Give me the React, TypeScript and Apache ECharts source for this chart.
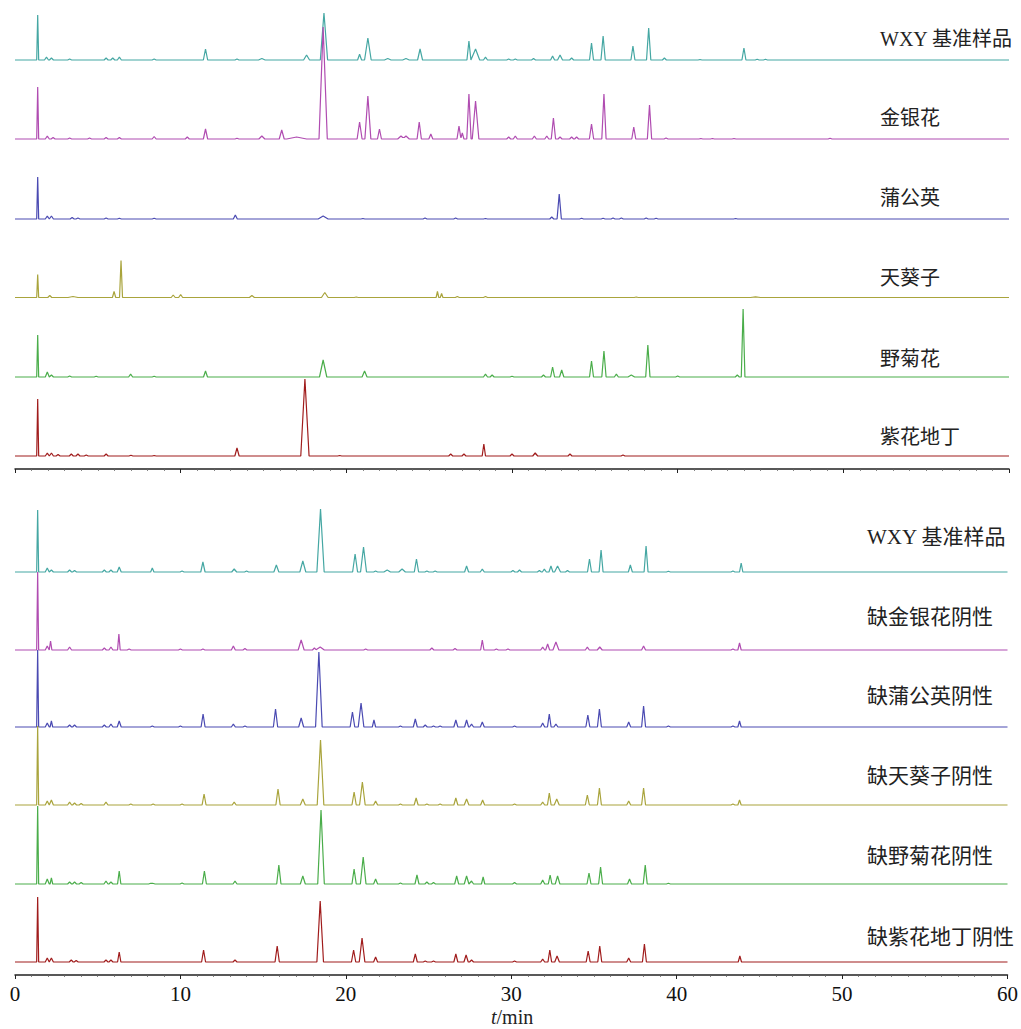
import React, { useEffect, useRef } from "react";
import * as echarts from "echarts";

// Peak tables: [retention time (min), height, half-base width (min, optional)]
const DEFAULT_W = 0.12;

const topNames = ["WXY 基准样品", "金银花", "蒲公英", "天葵子", "野菊花", "紫花地丁"];
const bottomNames = ["WXY 基准样品", "缺金银花阴性", "缺蒲公英阴性", "缺天葵子阴性", "缺野菊花阴性", "缺紫花地丁阴性"];
const colors = ["#45a7a3", "#b04cb1", "#4a4ab2", "#a9a43c", "#4aad4a", "#a01c1c"];

const wxyTop = [[1.37,45,0.06],[1.9,3],[2.2,2],[3.3,1],[5.5,2],[5.9,2],[6.3,3],[8.4,1],[11.5,11,0.13],[13.4,1],[14.9,1.5,0.2],[17.6,5,0.18],[18.65,47,0.22],[20.8,5.7],[21.3,22,0.2],[22.5,1.5,0.2],[23.6,1.5,0.2],[24.45,11,0.15],[27.4,19,0.12],[27.8,11,0.25],[28.4,3],[29.8,1],[30.2,1],[31.3,1.5],[32.45,4],[32.9,5,0.15],[33.6,2],[34.8,17,0.12],[35.5,24,0.13],[37.3,14,0.12],[38.25,32,0.13],[39.2,2],[41.35,0.5],[44.0,12,0.12],[44.8,0.7],[45.3,0.7]];
const jinyinhua = [[1.37,52,0.06],[1.95,3],[2.3,1.5],[3.3,1],[4.5,1],[5.5,1.5],[6.3,1.5],[8.4,2.5],[10.4,2],[11.5,10,0.13],[13.4,0.8],[14.9,3,0.18],[16.1,9,0.15],[17.0,2,0.6],[18.6,112,0.25],[20.8,17,0.15],[21.3,43,0.18],[22.0,10,0.12],[23.3,3,0.2],[23.6,3,0.2],[24.4,17,0.13],[25.1,5],[26.8,13,0.12],[27.0,6,0.1],[27.4,45,0.13],[27.8,38,0.2],[29.8,2],[30.2,3],[31.35,3],[32.1,3],[32.5,21,0.13],[32.9,2],[33.6,2],[33.9,2],[34.8,15,0.13],[35.55,45,0.13],[37.35,12,0.12],[38.3,34,0.13],[39.3,1],[41.4,0.5],[42.1,0.5],[43.4,0.5],[49.2,0.8]];
const pugongying = [[1.37,42,0.06],[1.95,3],[2.2,3],[3.45,1.5],[3.8,1],[5.5,1],[6.3,0.8],[8.4,0.7],[13.3,4,0.12],[18.6,3,0.3],[21.0,0.5],[24.75,1],[26.6,1],[28.4,0.5],[32.4,2],[32.85,25,0.13],[34.2,0.7],[35.5,0.7],[36.1,1],[36.6,1],[38.1,1],[38.7,0.7],[43.5,0.5]];
const tiankuizi = [[1.37,23,0.06],[2.1,2],[3.5,1,0.3],[5.98,6,0.1],[6.4,37,0.09],[9.55,2.5],[10.0,3],[14.3,2,0.15],[18.7,5,0.2],[20.6,0.5],[25.5,6,0.08],[25.75,4,0.08],[26.7,1],[28.4,1],[37.5,0.5],[44.7,0.7,0.3]];
const yejuhua = [[1.37,42,0.06],[1.95,5],[2.2,2],[3.3,1],[4.9,0.7],[6.98,3],[8.4,0.7],[11.5,6,0.12],[18.6,17,0.22],[21.1,6,0.15],[28.4,3],[28.8,2],[30.0,0.7],[31.9,2],[32.45,10,0.12],[33.0,7,0.13],[34.8,16,0.12],[35.55,26,0.13],[36.3,3],[37.2,2,0.2],[38.2,32,0.13],[40.0,1],[43.6,2],[43.95,68,0.11]];
const zihuadiding = [[1.37,57,0.06],[1.95,3],[2.2,3],[2.6,1.5],[3.4,2],[3.8,2],[4.3,1],[5.5,2],[7.0,0.7],[8.4,0.5],[13.4,8,0.13],[17.5,77,0.25],[19.6,0.5],[26.3,2],[27.1,2],[28.3,12,0.1],[30.0,2],[31.4,3,0.15],[33.5,2],[36.7,1]];

const wxyBottom = [[1.37,62,0.06],[1.95,4],[2.2,2],[3.3,2],[3.6,1.5],[5.4,2],[5.8,2],[6.3,5],[8.3,4,0.1],[10.1,1],[11.36,10,0.13],[13.25,3,0.15],[14.0,1],[15.8,7,0.15],[17.4,11,0.18],[18.47,63,0.22],[20.56,18,0.15],[21.07,25,0.18],[21.8,1],[22.5,2,0.2],[23.4,3,0.2],[24.27,13,0.13],[24.9,1],[25.4,1],[27.3,6],[28.25,3],[30.1,1.5],[30.5,2],[31.7,1.5],[32.0,3],[32.4,6,0.12],[32.8,6,0.18],[33.4,1.5],[34.73,13,0.12],[35.43,22,0.12],[37.2,7,0.12],[38.15,26,0.12],[39.5,0.7],[43.4,1],[43.9,9,0.1]];
const noJinyinhua = [[1.37,78,0.06],[1.95,4],[2.15,9,0.08],[3.3,3],[5.4,2],[5.8,3],[6.28,16,0.08],[6.9,1],[10.0,1],[11.36,1],[13.2,4,0.12],[13.9,1.5],[17.3,10,0.18],[18.1,2],[18.45,3,0.25],[21.2,1],[25.2,2],[26.6,1.5],[28.25,10,0.1],[29.1,1],[29.8,1],[31.9,3],[32.2,6,0.12],[32.7,8,0.18],[34.6,3],[35.35,3,0.15],[38.0,4,0.12],[43.4,1],[43.8,7,0.1]];
const noPugongying = [[1.37,77,0.06],[1.95,4],[2.2,6,0.08],[3.3,2],[3.6,2],[5.4,2],[5.8,3],[6.3,6],[8.3,1],[10.0,1],[11.37,13,0.12],[13.2,3],[13.9,1],[15.75,18,0.13],[17.3,9,0.15],[18.37,75,0.2],[20.4,15,0.14],[20.92,24,0.17],[21.7,7,0.1],[23.3,1],[24.2,8,0.12],[24.8,2],[25.3,1],[25.7,1],[26.65,7,0.12],[27.3,7,0.12],[27.6,3],[28.25,5],[30.2,1],[31.9,4],[32.3,13,0.11],[32.7,3],[34.63,12,0.12],[35.33,18,0.12],[37.1,5],[38.0,21,0.12],[39.5,1],[43.4,1],[43.8,6,0.1]];
const noTiankuizi = [[1.37,79,0.06],[1.95,4],[2.2,5],[3.3,3],[3.6,2],[4.0,1.5],[5.5,3],[7.0,1],[8.35,1],[10.1,1],[11.43,11,0.12],[13.25,3],[15.9,16,0.13],[17.4,6,0.15],[18.47,65,0.2],[20.5,13,0.13],[21.0,23,0.17],[21.8,4],[23.3,1],[24.25,7,0.12],[24.9,1],[25.7,1],[26.65,7,0.12],[27.3,6,0.14],[28.27,5],[30.2,1],[31.9,3],[32.3,12,0.11],[32.75,6,0.15],[34.6,10,0.12],[35.33,17,0.12],[37.1,4],[38.0,17,0.12],[43.4,1],[43.8,5,0.1]];
const noYejuhua = [[1.37,78,0.06],[1.95,5],[2.2,6,0.08],[3.3,2],[3.6,2],[4.0,1.5],[5.5,3],[5.8,2],[6.3,13,0.1],[8.2,0.7],[8.35,1],[10.1,1],[11.45,13,0.12],[13.3,3],[15.95,19,0.13],[17.4,8,0.15],[18.5,74,0.2],[20.5,15,0.13],[21.05,27,0.17],[21.8,5],[23.3,1],[24.3,9,0.12],[24.9,2],[25.3,1.5],[26.7,8,0.12],[27.3,8,0.14],[27.6,3],[28.3,7,0.1],[30.2,1.5],[31.9,4],[32.35,9,0.11],[32.8,8,0.14],[34.7,11,0.12],[35.4,17,0.12],[37.15,5],[38.1,19,0.12],[39.5,0.7]];
const noZihuadiding = [[1.37,65,0.06],[1.95,4],[2.2,4],[3.4,2],[3.7,1.5],[5.5,2],[5.8,2],[6.3,10,0.1],[11.4,12,0.12],[13.3,2],[15.85,16,0.13],[18.45,61,0.2],[20.47,12,0.13],[20.98,24,0.17],[21.8,5],[24.2,8,0.12],[24.8,1],[25.3,1],[26.65,8,0.12],[27.27,7,0.13],[27.6,2],[30.2,1],[31.9,3],[32.33,12,0.11],[32.77,6,0.14],[34.65,11,0.12],[35.35,16,0.12],[37.1,4],[38.05,18,0.12],[43.82,6,0.1]];

const topTraces = [wxyTop, jinyinhua, pugongying, tiankuizi, yejuhua, zihuadiding];
const bottomTraces = [wxyBottom, noJinyinhua, noPugongying, noTiankuizi, noYejuhua, noZihuadiding];

// vertical stacking offsets (layout)
const topOffsets = [409, 330, 250, 171.5, 92, 13];
const bottomOffsets = [403, 325, 248, 170, 91, 13];
const topLabelY = [40, 119, 199, 279, 360, 438];
const bottomLabelY = [537, 617, 696, 776, 856, 937];

const X_MIN = 0;
const X_MAX = 60;

function buildTrace(peaks: number[][], offset: number) {
  const xs = new Set<number>([X_MIN, X_MAX]);
  peaks.forEach((p) => {
    const w = p[2] ?? DEFAULT_W;
    xs.add(p[0] - w);
    xs.add(p[0]);
    xs.add(p[0] + w);
  });
  const sorted = Array.from(xs).filter((x) => x >= X_MIN && x <= X_MAX).sort((a, b) => a - b);
  return sorted.map((x) => {
    let v = 0;
    peaks.forEach((p) => {
      const w = p[2] ?? DEFAULT_W;
      v += Math.max(0, p[1] * (1 - Math.abs(x - p[0]) / w));
    });
    return [x, offset + v];
  });
}

const FONT = "Liberation Serif, Times New Roman, Noto Sans CJK SC, serif";

export default function App() {
  const ref = useRef<HTMLDivElement>(null);
  useEffect(() => {
    if (!ref.current) return;
    const chart = echarts.init(ref.current, undefined, { renderer: "svg" });

    const xAxisCommon = {
      type: "value",
      min: X_MIN,
      max: X_MAX,
      interval: 10,
      splitLine: { show: false },
      axisLine: { show: true, lineStyle: { color: "#222", width: 1.5 } },
      axisTick: { show: true, length: 4, lineStyle: { color: "#222", width: 1 } },
      minorTick: { show: true, splitNumber: 10, length: 2, lineStyle: { color: "#666", width: 0.8 } },
      minorSplitLine: { show: false },
    };

    const series: any[] = [];
    topTraces.forEach((tr, i) => {
      series.push({
        type: "line",
        xAxisIndex: 0,
        yAxisIndex: 0,
        data: buildTrace(tr, topOffsets[i]),
        showSymbol: false,
        symbol: "none",
        silent: true,
        lineStyle: { color: colors[i], width: 1.2 },
      });
    });
    bottomTraces.forEach((tr, i) => {
      series.push({
        type: "line",
        xAxisIndex: 1,
        yAxisIndex: 1,
        data: buildTrace(tr, bottomOffsets[i]),
        showSymbol: false,
        symbol: "none",
        silent: true,
        lineStyle: { color: colors[i], width: 1.2 },
      });
    });

    const graphics: any[] = [];
    topNames.forEach((n, i) => {
      graphics.push({
        type: "text",
        left: 880,
        top: topLabelY[i] - 11,
        style: { text: n, fontFamily: FONT, fontSize: 20, fill: "#222" },
      });
    });
    bottomNames.forEach((n, i) => {
      graphics.push({
        type: "text",
        left: 867,
        top: bottomLabelY[i] - 11,
        style: { text: n, fontFamily: FONT, fontSize: 21, fill: "#222" },
      });
    });
    graphics.push({
      type: "text",
      left: 491,
      top: 1007,
      style: {
        text: "{i|t}/min",
        rich: {
          i: { fontStyle: "italic", fontFamily: FONT, fontSize: 20, fill: "#222" },
        },
        fontFamily: FONT,
        fontSize: 20,
        fill: "#222",
      },
    });

    chart.setOption({
      animation: false,
      backgroundColor: "#fff",
      grid: [
        { left: 15, right: 12, top: 0, height: 469 },
        { left: 15, right: 12, top: 490, height: 485 },
      ],
      xAxis: [
        { ...xAxisCommon, gridIndex: 0, axisLabel: { show: false } },
        {
          ...xAxisCommon,
          gridIndex: 1,
          axisLabel: { show: true, margin: 8, fontFamily: FONT, fontSize: 21, color: "#111" },
        },
      ],
      yAxis: [
        { type: "value", gridIndex: 0, min: 0, max: 469, show: false, splitLine: { show: false } },
        { type: "value", gridIndex: 1, min: 0, max: 485, show: false, splitLine: { show: false } },
      ],
      series,
      graphic: graphics,
    });
    return () => chart.dispose();
  }, []);

  return (
    <div
      ref={ref}
      style={{ position: "fixed", left: 0, top: 0, width: 1021, height: 1029, background: "#fff" }}
    />
  );
}
